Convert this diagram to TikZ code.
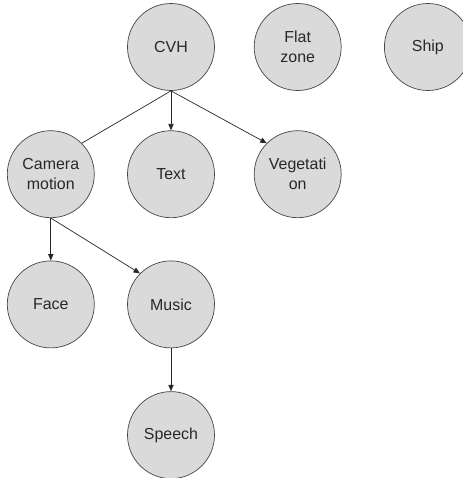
\documentclass[tikz,border=0pt]{standalone}
\usepackage{fontspec}
\setmainfont{Liberation Sans}
\usepackage{tikz}
\usetikzlibrary{arrows.meta, positioning}
\definecolor{blobfill}{RGB}{218, 218, 218}
\definecolor{blobline}{RGB}{70, 70, 70}
\definecolor{labeltext}{RGB}{40, 40, 40}

\begin{document}
\begin{tikzpicture}[
  blob/.style={
    circle, draw=blobline, fill=blobfill, line width=0.6pt,
    minimum size=2.61cm, inner sep=0pt,
    align=center, text=labeltext,
    font=\fontsize{13.6}{17}\selectfont
  },
  link/.style={line width=0.6pt, color=black!85},
  arrow/.style={link, -{Triangle[length=5.5pt, width=4.5pt]}}
]
  \useasboundingbox (-5.13,1.41) rectangle (8.76,-12.93);

  % Top row
  \node[blob] (cvh) at (0,0) {CVH};
  \node[blob, right=1.17cm of cvh] (flat) {Flat\\zone};
  \node[blob, right=1.275cm of flat] (ship) {Ship};

  % Second row
  \node[blob, below=1.185cm of cvh] (text) {Text};
  \node[blob, left=0.975cm of text] (cam) {Camera\\motion};
  \node[blob, right=1.17cm of text] (veg) {Vegetati\\on};

  % Third row
  \node[blob, below=1.275cm of cam] (face) {Face};
  \node[blob, below=1.275cm of text] (music) {Music};

  % Bottom
  \node[blob, below=1.29cm of music] (speech) {Speech};

  % Arrows
  \draw[link] (cvh.south)--(cam.north east);
  \draw[arrow] (cvh.south)--(text.north);
  \draw[arrow] (cvh.south)--(veg.north west);
  \draw[arrow] (cam.south)--(face.north);
  \draw[arrow] (cam.south)--(music.north west);
  \draw[arrow] (music.south)--(speech.north);
\end{tikzpicture}
\end{document}
